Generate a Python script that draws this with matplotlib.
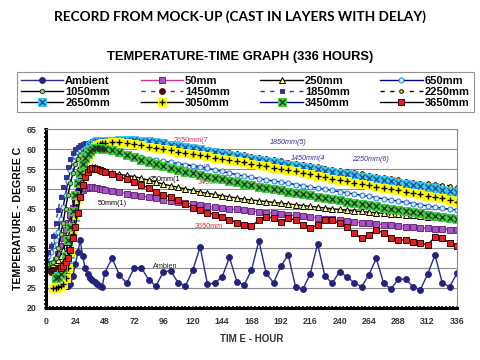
import numpy as np
import matplotlib
matplotlib.use('Agg')
import matplotlib.pyplot as plt
from matplotlib.ticker import MultipleLocator

nan = float('nan')

# time axis: every 2 h during the first two days, then every 6 h
HOURS = list(range(0, 49, 2)) + list(range(54, 337, 6))

ambient_early = [32.5, 31, 30, 29, 27.5, 26.5, 26, 25.5, 25.5, 25.5, 26, 28, 31,
                 34, 37, 33, 30, 28.5, 27.5, 27, 26.5, 26, 25.5, 25.3, 28.8]
ambient_late = [32.5, 28.3, 26.2, 30, 30.1, 27, 25.5, 29.1, 29.3, 26.3,
                25.5, 29.5, 35.3, 26, 26.2, 27.8, 32.7, 26.6, 25.7, 29.5,
                36.9, 28.7, 26.3, 30.5, 33.3, 25.3, 24.7, 28.5, 36.1, 28,
                26.2, 29.1, 27.8, 26.3, 25.3, 28.3, 32.5, 26.2, 24.7, 27.2,
                27.2, 25.3, 24.5, 28.5, 33.3, 26.2, 25.3, 28.7]

t50_early = [30, 30.2, 30.5, 31, 32, 33.5, 35.5, 37.5, 39.5, 41.5, 43.5, 45.3, 46.8,
             48, 49, 49.7, 50.1, 50.3, 50.4, 50.4, 50.3, 50.2, 50.0, 49.9, 49.7]
t50_late = [49.4, 49.1, 48.8, 48.5, 48.2, 47.9, 47.6, 47.3, 47.0, 46.7,
            46.4, 46.1, 45.9, 45.6, 45.4, 45.2, 45.0, 44.8, 44.6, 44.4,
            44.2, 44.0, 43.8, 43.6, 43.4, 43.3, 43.1, 42.9, 42.7, 42.5,
            42.3, 42.1, 41.9, 41.7, 41.5, 41.3, 41.2, 41.0, 40.8, 40.7,
            40.5, 40.4, 40.2, 40.1, 39.9, 39.8, 39.7, 39.6]

t250_early = [30.5, 30.5, 30.8, 31, 31.5, 32, 33, 34.5, 36.5, 39, 42, 45, 47.8,
              50, 51.8, 53.2, 54.2, 54.9, 55.3, 55.5, 55.5, 55.3, 55.0, 54.7, 54.4]
t250_late = [54.0, 53.7, 53.4, 53.1, 52.7, 52.2, 51.7, 51.2, 50.8, 50.4,
             50.0, 49.6, 49.2, 48.9, 48.6, 48.3, 48.0, 47.7, 47.4, 47.2,
             47.0, 46.8, 46.6, 46.4, 46.2, 46.0, 45.8, 45.6, 45.4, 45.2,
             45.0, 44.8, 44.6, 44.4, 44.3, 44.1, 44.0, 43.8, 43.7, 43.6,
             43.4, 43.3, 43.2, 43.0, 42.9, 42.8, 42.7, 42.6]

t650_early = [32.5, 33, 34, 35.5, 37, 39, 42.5, 45.5, 48.5, 52, 54.8, 57, 58.3,
              59.2, 59.8, 60.1, 60.3, 60.4, 60.4, 60.4, 60.3, 60.2, 60.1, 60, 59.9]
t650_late = [59.6, 59.2, 58.8, 58.4, 58.0, 57.6, 57.3, 57.0, 56.7, 56.4,
             56.1, 55.8, 55.5, 55.2, 54.8, 54.4, 54.0, 53.6, 53.2, 52.9,
             52.6, 52.3, 52.0, 51.7, 51.4, 51.1, 50.8, 50.5, 50.2, 49.9,
             49.6, 49.3, 49.0, 48.7, 48.4, 48.1, 47.8, 47.5, 47.2, 46.9,
             46.6, 46.3, 46.0, 45.7, 45.4, 45.1, 44.9, 44.7]

t1050_early = [31, 31, 31.2, 31.5, 32.5, 35, 38.5, 41.5, 45, 48.5, 51.4, 54, 56.3,
               57.6, 58.6, 59.4, 59.8, 60, 60.1, 60.1, 60.1, 60.1, 60.1, 60.1, 60.1]
t1050_late = [60.0, 59.5, 58.9, 58.3, 57.7, 57.1, 56.5, 56.0, 55.5, 55.0,
              54.6, 54.2, 53.8, 53.4, 53.1, 52.7, 52.4, 52.0, 51.6, 51.3,
              50.9, 50.6, 50.3, 49.9, 49.6, 49.3, 49.0, 48.7, 48.3, 48.0,
              47.7, 47.4, 47.1, 46.8, 46.5, 46.2, 45.9, 45.6, 45.3, 45.0,
              44.7, 44.4, 44.1, 43.8, 43.5, 43.2, 42.9, 42.6]

t1450_early = [nan, nan, 29, 29, 29.5, 30, 30.5, 31, 33.5, 37, 40.5, 44.5, 48.5,
               52, 55, 57.2, 58.8, 59.8, 60.5, 61, 61.4, 61.7, 61.9, 62, 62.1]
t1450_late = [62.0, 62.1, 62.1, 62.0, 61.9, 61.7, 61.5, 61.2, 60.9, 60.6,
              60.3, 60.0, 59.7, 59.3, 59.0, 58.6, 58.3, 58.0, 57.7, 57.3,
              57.0, 56.7, 56.4, 56.1, 55.8, 55.5, 55.2, 54.9, 54.6, 54.3,
              54.0, 53.7, 53.4, 53.1, 52.8, 52.5, 52.2, 51.9, 51.6, 51.3,
              51.0, 50.7, 50.4, 50.1, 49.8, 49.5, 49.2, 49.0]

t1850_early = [33.5, 34, 35.5, 38, 41.5, 44.7, 48, 50.6, 53, 55.5, 57.5, 59, 60,
               60.5, 61, 61.3, 61.5, 61.7, 61.9, 62, 62.1, 62.2, 62.3, 62.4, 62.5]
t1850_late = [62.5, 62.6, 62.6, 62.5, 62.4, 62.2, 62.0, 61.7, 61.4, 61.1,
              60.8, 60.5, 60.2, 59.8, 59.5, 59.1, 58.8, 58.5, 58.2, 57.8,
              57.5, 57.2, 56.9, 56.6, 56.3, 56.0, 55.7, 55.4, 55.1, 54.8,
              54.5, 54.2, 53.9, 53.6, 53.3, 53.0, 52.7, 52.4, 52.1, 51.8,
              51.5, 51.2, 50.9, 50.6, 50.3, 50.0, 49.7, 49.5]

t2250_early = [nan, nan, 24.5, 24.8, 25.2, 25.8, 26.5, 27.5, 29.5, 32.5, 36.5, 41, 45.5,
               49.5, 53, 56, 58.2, 59.7, 60.7, 61.4, 61.9, 62.2, 62.4, 62.5, 62.6]
t2250_late = [62.7, 62.8, 62.8, 62.7, 62.6, 62.4, 62.2, 62.0, 61.7, 61.4,
              61.1, 60.8, 60.5, 60.2, 59.9, 59.6, 59.3, 59.0, 58.7, 58.4,
              58.1, 57.8, 57.5, 57.2, 56.9, 56.6, 56.3, 56.0, 55.7, 55.4,
              55.1, 54.8, 54.5, 54.2, 53.9, 53.6, 53.3, 53.0, 52.7, 52.4,
              52.1, 51.8, 51.6, 51.4, 51.2, 51.0, 50.8, 50.6]

t2650_early = [nan, nan, nan, nan, nan, 28, 28.5, 29, 29.5, 30.5, 33.5, 38, 43,
               48, 52.5, 56, 58.3, 59.8, 60.8, 61.4, 61.8, 62, 62.1, 62.2, 62.2]
t2650_late = [62.2, 62.3, 62.3, 62.3, 62.2, 62.0, 61.8, 61.5, 61.2, 60.9,
              60.6, 60.3, 60.0, 59.6, 59.3, 58.9, 58.6, 58.3, 58.0, 57.6,
              57.3, 57.0, 56.7, 56.4, 56.1, 55.8, 55.5, 55.2, 54.9, 54.6,
              54.3, 54.0, 53.7, 53.4, 53.1, 52.8, 52.5, 52.2, 51.9, 51.6,
              51.3, 51.0, 50.7, 50.4, 50.1, 49.8, 49.5, 49.3]

t3050_early = [nan, nan, nan, 25, 25, 25.2, 25.5, 26, 27.5, 30, 34, 38.5, 43.5,
               47.5, 51.4, 54.5, 56.8, 58.3, 59.4, 60.2, 60.7, 61.1, 61.4, 61.6, 61.7]
t3050_late = [61.9, 61.9, 61.6, 61.3, 61.0, 60.7, 60.3, 60.0, 59.7, 59.4,
              59.1, 58.9, 58.6, 58.2, 57.9, 57.6, 57.3, 57.0, 56.7, 56.4,
              56.0, 55.7, 55.4, 55.0, 54.7, 54.4, 54.0, 53.7, 53.3, 53.0,
              52.6, 52.3, 52.0, 51.6, 51.3, 51.0, 50.6, 50.3, 50.0, 49.6,
              49.3, 49.0, 48.6, 48.3, 47.9, 47.6, 47.2, 46.8]

t3450_early = [nan, nan, nan, nan, 27.5, 27.8, 28.5, 30, 33, 37, 40.5, 44.5, 48.5,
               51.5, 54, 56.3, 57.8, 58.8, 59.5, 60, 60.3, 60.4, 60.3, 60.2, 60.1]
t3450_late = [59.8, 59.2, 58.6, 58.0, 57.4, 56.8, 56.2, 55.7, 55.2, 54.7,
              54.3, 53.9, 53.5, 53.1, 52.8, 52.4, 52.1, 51.7, 51.3, 51.0,
              50.6, 50.3, 50.0, 49.6, 49.3, 49.0, 48.7, 48.4, 48.0, 47.7,
              47.4, 47.1, 46.8, 46.5, 46.2, 45.9, 45.6, 45.3, 45.0, 44.7,
              44.4, 44.1, 43.8, 43.5, 43.2, 42.9, 42.6, 42.3]

t3650_early = [nan, nan, nan, nan, nan, nan, 30, 30.5, 31.5, 32.5, 34.5, 37.5, 40.5,
               44, 48, 51, 53, 54.3, 55, 55.2, 55.1, 54.9, 54.7, 54.5, 54.3]
t3650_late = [53.8, 53.1, 52.4, 51.7, 51.0, 50.2, 49.3, 48.5, 47.9, 47.3,
              46.1, 45.1, 44.6, 44.0, 43.5, 42.8, 42.2, 41.5, 40.9, 40.6,
              42.1, 43.0, 42.6, 41.7, 42.6, 42.1, 40.9, 40.0, 40.9, 42.1,
              42.1, 41.3, 40.4, 38.8, 37.5, 38.4, 39.6, 38.8, 37.5, 37.1,
              37.1, 36.7, 36.4, 35.8, 37.9, 37.5, 36.3, 35.6]

LABELS = ['Ambient', '50mm', '250mm', '650mm', '1050mm', '1450mm',
          '1850mm', '2250mm', '2650mm', '3050mm', '3450mm', '3650mm']
SERIES = [ambient_early + ambient_late, t50_early + t50_late,
          t250_early + t250_late, t650_early + t650_late,
          t1050_early + t1050_late, t1450_early + t1450_late,
          t1850_early + t1850_late, t2250_early + t2250_late,
          t2650_early + t2650_late, t3050_early + t3050_late,
          t3450_early + t3450_late, t3650_early + t3650_late]

# line style, marker, size, face, edge, overlay marker (or None)
STYLES = [
    dict(color='#2b2b8c', ls='-', marker='o', ms=4.2, mfc='#23237e', mec='#23237e', over=None),
    dict(color='#cc3399', ls='-', marker='s', ms=4.2, mfc='#a356c4', mec='#6b2a7a', over=None),
    dict(color='black', ls='-', marker='^', ms=4.2, mfc='#ffff66', mec='black', over=None),
    dict(color='#000080', ls='-', marker='o', ms=3.6, mfc='#d6ecff', mec='#1f78e0', over=None),
    dict(color='black', ls='-', marker='o', ms=3.2, mfc='#8ccf6e', mec='#1d4d1d', over=None),
    dict(color='#8b1a1a', ls=(0, (3, 4)), marker='o', ms=4.2, mfc='#4a0f0f', mec='#4a0f0f', over=None),
    dict(color='#333399', ls=(0, (3, 4)), marker='s', ms=3.0, mfc='#333399', mec='#333399', over=None),
    dict(color='black', ls=(0, (3, 4)), marker='o', ms=2.6, mfc='#ffee00', mec='black', over=None),
    dict(color='black', ls='-', marker='s', ms=5.5, mfc='#3cc8f0', mec='#3cc8f0', over=('x', '#1a4f9c')),
    dict(color='black', ls='-', marker='s', ms=5.5, mfc='#ffff00', mec='#ffff00', over=('+', 'black')),
    dict(color='#000080', ls='-', marker='s', ms=5.5, mfc='#44cc44', mec='#44cc44', over=('x', '#1a3a1a')),
    dict(color='black', ls='-', marker='s', ms=4.4, mfc='#e02020', mec='#3a0000', over=None),
]

plt.rcParams['font.family'] = ['Liberation Sans', 'DejaVu Sans']

fig = plt.figure(figsize=(4.8, 3.6), dpi=100)
fig.patch.set_facecolor('white')
ax = fig.add_axes([0.0958, 0.1453, 0.8563, 0.495])

# annotations sit under the curves, as in the source
notes = [
    ('1850mm(5)', 183, 61.8, '#333399', 'italic'),
    ('1450mm(4', 200, 57.8, '#333399', 'italic'),
    ('2250mm(6)', 250, 57.3, '#333399', 'italic'),
    ('2650mm(7', 104, 62.1, '#cc3366', 'normal'),
    ('1050mm(2', 106, 55.4, '#333399', 'normal'),
    ('3450mm', 124, 51.5, '#e03030', 'normal'),
    ('250mm(1', 85, 52.3, 'black', 'normal'),
    ('50mm(1)', 42.5, 46.3, 'black', 'normal'),
    ('3650mm', 122, 40.6, '#e03030', 'normal'),
    ('Ambien', 87.5, 30.4, '#222222', 'normal'),
]
for txt, x, y, c, st in notes:
    ax.text(x, y, txt, fontsize=5.2, color=c, style=st, ha='left', va='center', zorder=1)

handles = []
for lab, ys, st in zip(LABELS, SERIES, STYLES):
    ln, = ax.plot(HOURS, ys, color=st['color'], ls=st['ls'], lw=1.0,
                  marker=st['marker'], ms=st['ms'], mfc=st['mfc'], mec=st['mec'],
                  mew=0.7, zorder=2)
    if st['over'] is not None:
        ov, = ax.plot(HOURS, ys, ls='none', marker=st['over'][0], ms=st['ms'] * 0.85,
                      mec=st['over'][1], mew=1.0, zorder=2)
        handles.append((ln, ov))
    else:
        handles.append(ln)

ax.set_xlim(0, 336)
ax.set_ylim(20, 65)
ax.xaxis.set_major_locator(MultipleLocator(24))
ax.xaxis.set_minor_locator(MultipleLocator(3))
ax.yaxis.set_major_locator(MultipleLocator(5))
ax.yaxis.set_minor_locator(MultipleLocator(1))
ax.grid(axis='y', color='#8c8c8c', lw=0.8, zorder=0)
ax.set_axisbelow(True)

for s in ['top', 'right']:
    ax.spines[s].set_color('#8c8c8c')
    ax.spines[s].set_linewidth(0.8)
for s in ['left', 'bottom']:
    ax.spines[s].set_color('black')
    ax.spines[s].set_linewidth(2.2)

ax.tick_params(axis='both', which='major', labelsize=6.3, colors='#333333',
               length=3, width=1.2, direction='inout', pad=5)
ax.tick_params(axis='both', which='minor', length=2.5, width=1.2,
               direction='inout', color='black')
for lbl in ax.get_xticklabels() + ax.get_yticklabels():
    lbl.set_fontweight('bold')

ax.set_xlabel('TIM E - HOUR', fontsize=7, fontweight='bold', color='#333333', labelpad=6)
ax.set_ylabel('TEMPERATURE - DEGREE C', fontsize=7.6, fontweight='bold', color='black', labelpad=3)

fig.text(0.5, 0.955, 'RECORD FROM MOCK-UP (CAST IN LAYERS WITH DELAY)',
         ha='center', va='center', fontsize=9.8, fontweight='bold', family=['Lato', 'DejaVu Sans'])
fig.text(0.5, 0.842, 'TEMPERATURE-TIME GRAPH (336 HOURS)',
         ha='center', va='center', fontsize=9.3, fontweight='bold')

# Excel-style legend filled row by row
order = [0, 4, 8, 1, 5, 9, 2, 6, 10, 3, 7, 11]
leg = fig.legend([handles[i] for i in order], [LABELS[i] for i in order],
                 ncol=4, loc='center', bbox_to_anchor=(0.511, 0.745),
                 prop={'size': 8, 'weight': 'bold'}, frameon=True, fancybox=False,
                 edgecolor='#777777', handlelength=3.8, handletextpad=0.2,
                 columnspacing=2.75, labelspacing=0.1, borderpad=0.35, numpoints=1)
leg.get_frame().set_linewidth(0.8)

fig.savefig('out.png', dpi=100)
